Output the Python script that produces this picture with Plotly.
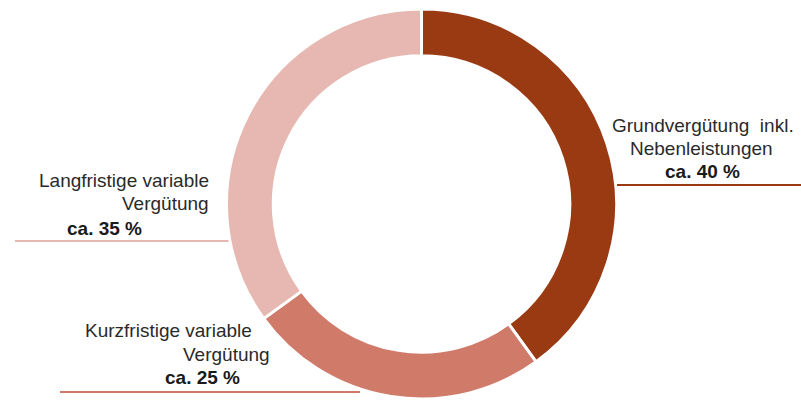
import plotly.graph_objects as go

categories = ["Grundvergütung inkl. Nebenleistungen", "Kurzfristige variable Vergütung", "Langfristige variable Vergütung"]
values = [40, 25, 35]
colors = ["#993A13", "#D07A6A", "#E6B8B1"]

W, H = 801, 401
cx, cy, r = 421.5, 204, 195

fig = go.Figure(go.Pie(
    labels=categories, values=values, sort=False, direction="clockwise", rotation=0,
    hole=0.76, textinfo="none", hoverinfo="label+percent",
    marker=dict(colors=colors, line=dict(color="white", width=3)),
    domain=dict(x=[(cx - r) / W, (cx + r) / W], y=[(H - cy - r) / H, (H - cy + r) / H]),
    showlegend=False,
))

def px(x):
    return x / W

def py(y):
    return 1 - y / H

shapes = [
    dict(type="line", xref="paper", yref="paper", x0=px(612), x1=px(801), y0=py(185), y1=py(185),
         line=dict(color=colors[0], width=2), layer="below"),
    dict(type="line", xref="paper", yref="paper", x0=px(15), x1=px(232), y0=py(241), y1=py(241),
         line=dict(color=colors[2], width=2), layer="below"),
    dict(type="line", xref="paper", yref="paper", x0=px(60), x1=px(360), y0=py(392), y1=py(392),
         line=dict(color=colors[1], width=2), layer="below"),
]

font = dict(family="Liberation Sans, Arial, sans-serif", size=19, color="#2a2a2a")
bfont = dict(family="Liberation Sans, Arial, sans-serif", size=19, color="#1a1a1a")

def ann(text, x, y, anchor, f):
    return dict(text=text, x=px(x), y=py(y), xref="paper", yref="paper", showarrow=False,
                xanchor=anchor, yanchor="middle", font=f)

annotations = [
    ann("Grundvergütung  inkl.", 796, 125, "right", font),
    ann("Nebenleistungen", 701, 148, "center", font),
    ann("<b>ca. 40 %</b>", 702, 171, "center", bfont),
    ann("Langfristige variable", 211, 180, "right", font),
    ann("Vergütung", 211, 204, "right", font),
    ann("<b>ca. 35 %</b>", 105, 228, "center", bfont),
    ann("Kurzfristige variable", 254, 330, "right", font),
    ann("Vergütung", 272, 354, "right", font),
    ann("<b>ca. 25 %</b>", 202, 377, "center", bfont),
]

fig.update_layout(
    width=W, height=H, margin=dict(l=0, r=0, t=0, b=0),
    paper_bgcolor="white", plot_bgcolor="white",
    shapes=shapes, annotations=annotations,
)

fig.write_html("out.html", config={"displayModeBar": False},
               post_script="document.body.style.margin='0';document.body.style.overflow='hidden';")
